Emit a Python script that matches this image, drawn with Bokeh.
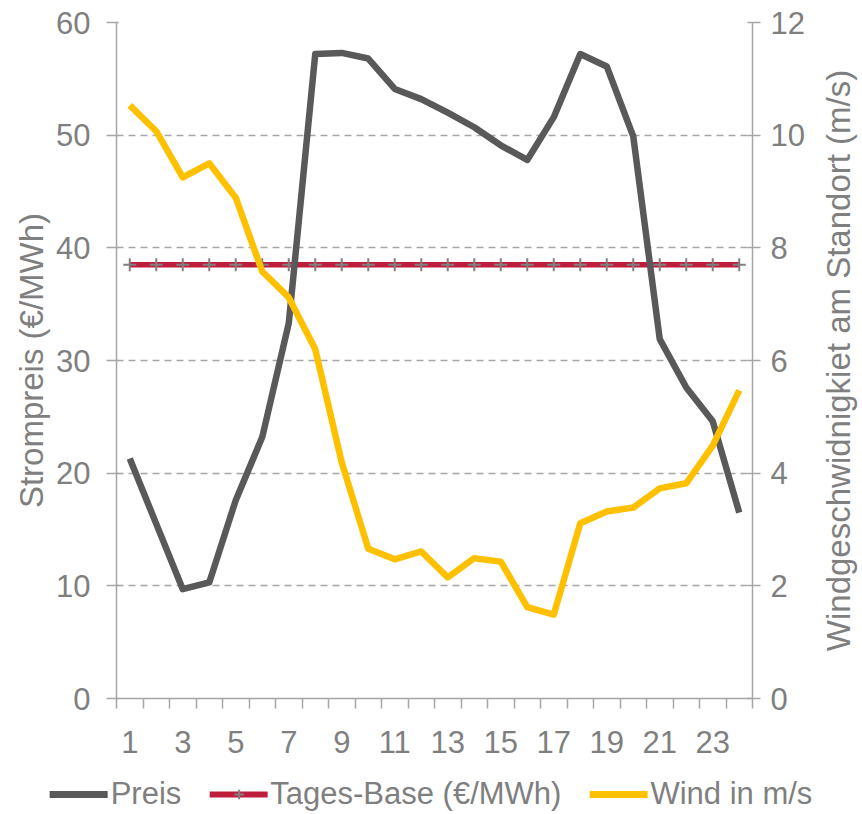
from bokeh.plotting import figure
from bokeh.layouts import row
from bokeh.models import Range1d, LinearAxis, FixedTicker, Legend, LegendItem
from bokeh.embed import file_html
from bokeh.resources import INLINE

# ---- data ----
hours = list(range(1, 25))
x_tick_labels = [1, 3, 5, 7, 9, 11, 13, 15, 17, 19, 21, 23]
preis = [21.3, 15.5, 9.7, 10.3, 17.6, 23.2, 33.3, 57.2, 57.3, 56.8, 54.1, 53.2,
         52.0, 50.7, 49.1, 47.8, 51.6, 57.2, 56.1, 49.9, 31.9, 27.6, 24.6, 16.5]
tages_base = [38.5, 38.5, 38.5, 38.5, 38.5, 38.5, 38.5, 38.5, 38.5, 38.5, 38.5, 38.5,
              38.5, 38.5, 38.5, 38.5, 38.5, 38.5, 38.5, 38.5, 38.5, 38.5, 38.5, 38.5]
wind = [10.53, 10.07, 9.25, 9.5, 8.89, 7.58, 7.12, 6.2, 4.19, 2.66, 2.47, 2.61,
        2.15, 2.49, 2.43, 1.62, 1.49, 3.11, 3.32, 3.39, 3.73, 3.82, 4.49, 5.47]
left_ticks = [0, 10, 20, 30, 40, 50, 60]
right_ticks = [0, 2, 4, 6, 8, 10, 12]
series_names = ["Preis", "Tages-Base (€/MWh)", "Wind in m/s"]
left_title = "Strompreis (€/MWh)"
right_title = "Windgeschwidnigkiet am Standort (m/s)"

FONT = "Liberation Sans"
TXT = "#7f7f7f"
AX = "#a6a6a6"
FS = "31px"
TFS = "33px"
C_PREIS = "#595959"
C_BASE = "#be1e3c"
C_MARK = "#808080"
C_WIND = "#ffc000"


def style_text(ax):
    ax.major_label_text_font = FONT
    ax.major_label_text_font_size = FS
    ax.major_label_text_color = TXT
    ax.axis_label_text_font = FONT
    ax.axis_label_text_font_size = TFS
    ax.axis_label_text_color = TXT
    ax.axis_label_text_font_style = "normal"


def style_lines(ax):
    ax.axis_line_color = AX
    ax.axis_line_width = 1.5
    ax.major_tick_line_color = AX
    ax.major_tick_line_width = 1.5
    ax.minor_tick_line_width = 1.5


# ---------------- main chart ----------------
p = figure(width=810, height=760, x_range=Range1d(0.5, 24.5), y_range=Range1d(0, 60),
           output_backend="svg", toolbar_location=None,
           min_border_left=116, min_border_right=58, min_border_top=22, min_border_bottom=62,
           outline_line_color=None, background_fill_color="white", border_fill_color="white")
p.extra_y_ranges = {"wind": Range1d(0, 12)}

p.xgrid.visible = False
p.ygrid.ticker = FixedTicker(ticks=left_ticks)
p.ygrid.grid_line_color = AX
p.ygrid.grid_line_width = 1.5
p.ygrid.grid_line_dash = "7 5"

ya = p.yaxis[0]
ya.ticker = FixedTicker(ticks=left_ticks)
ya.axis_label = left_title
ya.minor_tick_line_color = None
ya.major_tick_in = 2
ya.major_tick_out = 10
ya.major_label_standoff = 16
ya.axis_label_standoff = 3

xa = p.xaxis[0]
xa.ticker = FixedTicker(ticks=x_tick_labels, minor_ticks=[h - 0.5 for h in hours] + [24.5])
xa.major_tick_in = 0
xa.major_tick_out = 0
xa.minor_tick_in = 0
xa.minor_tick_out = 10
xa.major_label_standoff = 22

ra = LinearAxis(y_range_name="wind", ticker=FixedTicker(ticks=right_ticks))
ra.minor_tick_line_color = None
ra.major_tick_in = 5
ra.major_tick_out = 8
ra.major_label_standoff = 10
p.add_layout(ra, "right")

for ax in (ya, xa, ra):
    style_text(ax)
    style_lines(ax)
xa.minor_tick_line_color = AX

p.line(hours, tages_base, line_color=C_BASE, line_width=5.5)
p.scatter(hours, tages_base, marker="cross", size=13, line_color=C_MARK, line_width=2)
p.line(hours, preis, line_color=C_PREIS, line_width=6.5, line_join="round")
p.line(hours, wind, line_color=C_WIND, line_width=6.5, line_join="round", y_range_name="wind")

# ------- strip on the right carrying the secondary axis title (reads bottom-to-top) -------
rf = figure(width=52, height=760, x_range=Range1d(0, 1), y_range=Range1d(0, 12),
            output_backend="svg", toolbar_location=None, x_axis_type=None,
            min_border_left=46, min_border_right=0, min_border_top=22, min_border_bottom=62,
            outline_line_color=None, background_fill_color="white", border_fill_color="white")
rf.grid.visible = False
rya = rf.yaxis[0]
rya.ticker = FixedTicker(ticks=[])
rya.axis_label = right_title
rya.axis_label_standoff = 0
rya.axis_line_color = None
rya.major_tick_line_color = None
rya.minor_tick_line_color = None
style_text(rya)

# ---------------- legend strip ----------------
lg = figure(width=862, height=52, x_range=Range1d(0, 1), y_range=Range1d(0, 1),
            output_backend="svg", toolbar_location=None, x_axis_type=None, y_axis_type=None,
            min_border=0, outline_line_color=None, background_fill_color="white",
            border_fill_color="white")
lg.grid.visible = False
lx = [-10, -9]
ly = [-10, -10]
l1 = lg.line(lx, ly, line_color=C_PREIS, line_width=7, line_cap="round")
l2 = lg.line(lx, ly, line_color=C_BASE, line_width=6, line_cap="round")
l2m = lg.scatter(lx, ly, marker="cross", size=13, line_color=C_MARK, line_width=2)
l3 = lg.line(lx, ly, line_color=C_WIND, line_width=7, line_cap="round")
legend = Legend(items=[
    LegendItem(label=series_names[0], renderers=[l1]),
    LegendItem(label=series_names[1], renderers=[l2, l2m]),
    LegendItem(label=series_names[2], renderers=[l3]),
], orientation="horizontal", location="bottom_center")
legend.label_text_font = FONT
legend.label_text_font_size = FS
legend.label_text_color = TXT
legend.glyph_width = 58
legend.glyph_height = 24
legend.label_standoff = 3
legend.spacing = 28
legend.padding = 0
legend.margin = 0
legend.border_line_alpha = 0
legend.background_fill_alpha = 0
lg.add_layout(legend, "center")

top = row(p, rf, spacing=0)
open("out.html", "w").write(file_html((top, lg), INLINE))
